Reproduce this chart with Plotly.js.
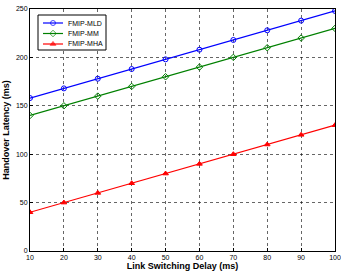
<!DOCTYPE html>
<html><head><meta charset="utf-8">
<script src="https://cdn.plot.ly/plotly-3.0.1.min.js"></script>
<style>html,body{margin:0;padding:0;background:#fff;}#chart{width:341px;height:273px;}</style>
</head><body><div id="chart"></div>
<script>
// Link switching delay (ms)
const delay = [10, 20, 30, 40, 50, 60, 70, 80, 90, 100];
// Handover latency (ms) per scheme
const fmipMld = [158, 168, 178, 188, 198, 208, 218, 228, 238, 248];
const fmipMm  = [140, 150, 160, 170, 180, 190, 200, 210, 220, 230];
const fmipMha = [40, 50, 60, 70, 80, 90, 100, 110, 120, 130];
const xTicks = [10, 20, 30, 40, 50, 60, 70, 80, 90, 100];
const yTicks = [0, 50, 100, 150, 200, 250];
const names = ['FMIP-MLD', 'FMIP-MM', 'FMIP-MHA'];
const colors = ['#0000ff', '#008000', '#ff0000'];
const symbols = ['circle-open', 'diamond-open', 'triangle-up'];
const seriesY = [fmipMld, fmipMm, fmipMha];

const FONT = 'Liberation Sans, Arial, sans-serif';
const M = {l: 30, r: 6, t: 9, b: 22};
const W = 341, H = 273;
const PW = W - M.l - M.r, PH = H - M.t - M.b;

// compact legend box, laid out in pixels inside the plot area
const LEG = {x0: 8, x1: 76, y0: 6, y1: 41, rows: [14, 24.5, 35], lx0: 13, lx1: 33, mx: 23, tx: 36};
const px = v => v / PW;
const py = v => 1 - v / PH;

const data = seriesY.map((y, i) => ({
  x: delay, y: y, name: names[i], type: 'scatter', mode: 'lines+markers',
  showlegend: false,
  line: {color: colors[i], width: 1.2},
  marker: {symbol: symbols[i], size: 5, color: colors[i], line: {color: colors[i], width: 1}}
}));

// legend: opaque box, then sample line + marker per series, on a hidden pixel-unit overlay axis
data.push({
  x: [LEG.x0, LEG.x1, LEG.x1, LEG.x0, LEG.x0], y: [LEG.y0, LEG.y0, LEG.y1, LEG.y1, LEG.y0],
  xaxis: 'x2', yaxis: 'y2', type: 'scatter', mode: 'lines', fill: 'toself',
  fillcolor: '#fff', line: {color: '#000', width: 1}, showlegend: false, hoverinfo: 'skip'
});
names.forEach((n, i) => {
  data.push({
    x: [LEG.lx0, LEG.mx, LEG.lx1], y: [LEG.rows[i], LEG.rows[i], LEG.rows[i]],
    xaxis: 'x2', yaxis: 'y2', type: 'scatter', mode: 'lines+markers',
    showlegend: false, hoverinfo: 'skip',
    line: {color: colors[i], width: 1.2},
    marker: {symbol: symbols[i], size: [0, 5, 0], color: colors[i], line: {color: colors[i], width: 1}}
  });
});

const annotations = names.map((n, i) => ({
  xref: 'paper', yref: 'paper', x: px(LEG.tx), y: py(LEG.rows[i]),
  xanchor: 'left', yanchor: 'middle', showarrow: false, text: n,
  font: {family: FONT, size: 7, color: '#000'}
}));

const axisCommon = {
  showline: true, mirror: true, linecolor: '#000', linewidth: 1,
  showgrid: true, gridcolor: '#000', griddash: 'dot', gridwidth: 0.6,
  zeroline: false, ticks: 'inside', ticklen: 3, tickcolor: '#000',
  tickfont: {family: FONT, size: 7, color: '#000'}
};

const layout = {
  width: W, height: H, margin: M,
  paper_bgcolor: '#fff', plot_bgcolor: '#fff',
  showlegend: false, annotations: annotations,
  xaxis: Object.assign({}, axisCommon, {
    range: [10, 100], tickvals: xTicks,
    title: {text: '<b>Link Switching Delay (ms)</b>', standoff: 2,
      font: {family: FONT, size: 9, color: '#000'}}
  }),
  yaxis: Object.assign({}, axisCommon, {
    range: [0, 250], tickvals: yTicks,
    title: {text: '<b>Handover Latency (ms)</b>', standoff: 4,
      font: {family: FONT, size: 9, color: '#000'}}
  }),
  xaxis2: {overlaying: 'x', range: [0, PW], visible: false, fixedrange: true},
  yaxis2: {overlaying: 'y', range: [PH, 0], visible: false, fixedrange: true}
};

Plotly.newPlot('chart', data, layout, {displayModeBar: false, staticPlot: true});
</script>
</body></html>
